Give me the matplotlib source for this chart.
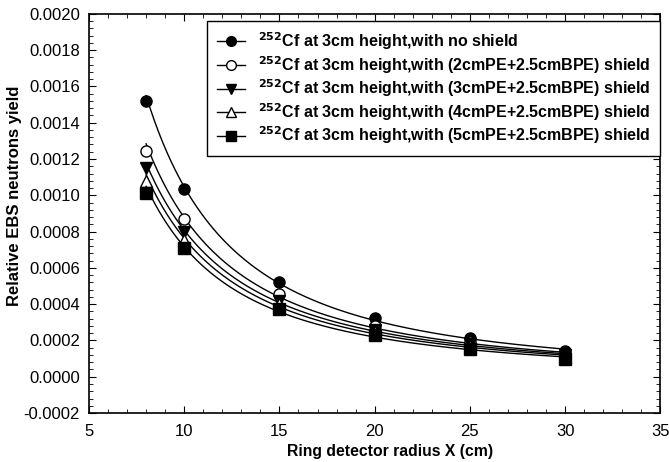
import numpy as np
import matplotlib
matplotlib.use('Agg')
import matplotlib.pyplot as plt
from matplotlib.ticker import MultipleLocator, FormatStrFormatter

plt.rcParams['font.family'] = 'Liberation Sans'
plt.rcParams['font.size'] = 12

# radius of ring detector (cm)
radius = [8, 10, 15, 20, 25, 30]

# relative EBS neutron yield for each shield configuration
no_shield = [0.00152, 0.001036, 0.000523, 0.000325, 0.000215, 0.000143]
pe2_bpe25 = [0.001245, 0.00087, 0.000457, 0.00028, 0.00019, 0.000125]
pe3_bpe25 = [0.00115, 0.0008, 0.00042, 0.00026, 0.00018, 0.000118]
pe4_bpe25 = [0.00108, 0.000755, 0.0004, 0.000245, 0.00017, 0.00011]
pe5_bpe25 = [0.00101, 0.00071, 0.000375, 0.00023, 0.000155, 0.0001]

labels = [
    r'$^{\mathbf{252}}$Cf at 3cm height,with no shield',
    r'$^{\mathbf{252}}$Cf at 3cm height,with (2cmPE+2.5cmBPE) shield',
    r'$^{\mathbf{252}}$Cf at 3cm height,with (3cmPE+2.5cmBPE) shield',
    r'$^{\mathbf{252}}$Cf at 3cm height,with (4cmPE+2.5cmBPE) shield',
    r'$^{\mathbf{252}}$Cf at 3cm height,with (5cmPE+2.5cmBPE) shield',
]
series = [no_shield, pe2_bpe25, pe3_bpe25, pe4_bpe25, pe5_bpe25]
markers = ['o', 'o', 'v', '^', 's']
faces = ['black', 'white', 'black', 'white', 'black']

fig = plt.figure(figsize=(6.69, 4.62), dpi=100)
ax = fig.add_axes([0.133, 0.106, 0.854, 0.864])

x = np.array(radius, dtype=float)
xf = np.linspace(8, 30, 200)
for ys, m, fc, lab in zip(series, markers, faces, labels):
    ys = np.array(ys)
    # power-law fit curve through the points
    b, a = np.polyfit(np.log(x), np.log(ys), 1)
    ax.plot(xf, np.exp(a) * xf ** b, color='black', lw=1.0)
    ax.plot(x, ys, linestyle='none', marker=m, markersize=8,
            markerfacecolor=fc, markeredgecolor='black', markeredgewidth=1.0)
    ax.plot([], [], color='black', lw=1.0, marker=m, markersize=7,
            markerfacecolor=fc, markeredgecolor='black', label=lab)

ax.set_xlim(5, 35)
ax.set_ylim(-0.0002, 0.0020)
ax.xaxis.set_major_locator(MultipleLocator(5))
ax.xaxis.set_minor_locator(MultipleLocator(1))
ax.yaxis.set_major_locator(MultipleLocator(0.0002))
ax.yaxis.set_minor_locator(MultipleLocator(0.00004))
ax.yaxis.set_major_formatter(FormatStrFormatter('%.4f'))
ax.tick_params(which='both', direction='in', top=True, right=True, labelsize=12)
ax.tick_params(which='major', length=5)
ax.tick_params(which='minor', length=3)
ax.tick_params(axis='x', which='major', pad=8)
ax.tick_params(axis='y', which='major', pad=6.5)
for s in ax.spines.values():
    s.set_linewidth(1.2)

ax.set_xlabel('Ring detector radius X (cm)', fontweight='bold', fontsize=11.3)
ax.set_ylabel('Relative EBS neutrons yield', fontweight='bold', fontsize=12)
ax.xaxis.set_label_coords(0.527, -0.078)
ax.yaxis.set_label_coords(-0.117, 0.545)

leg = ax.legend(loc='upper right', bbox_to_anchor=(1.0, 0.983), frameon=True,
                fancybox=False, edgecolor='black', framealpha=1,
                prop={'weight': 'bold', 'size': 11.5}, handlelength=1.8,
                handletextpad=0.8, labelspacing=0.12, borderpad=0.6,
                borderaxespad=0.0)
leg.get_frame().set_linewidth(1.0)

plt.savefig('out.png', dpi=100)
